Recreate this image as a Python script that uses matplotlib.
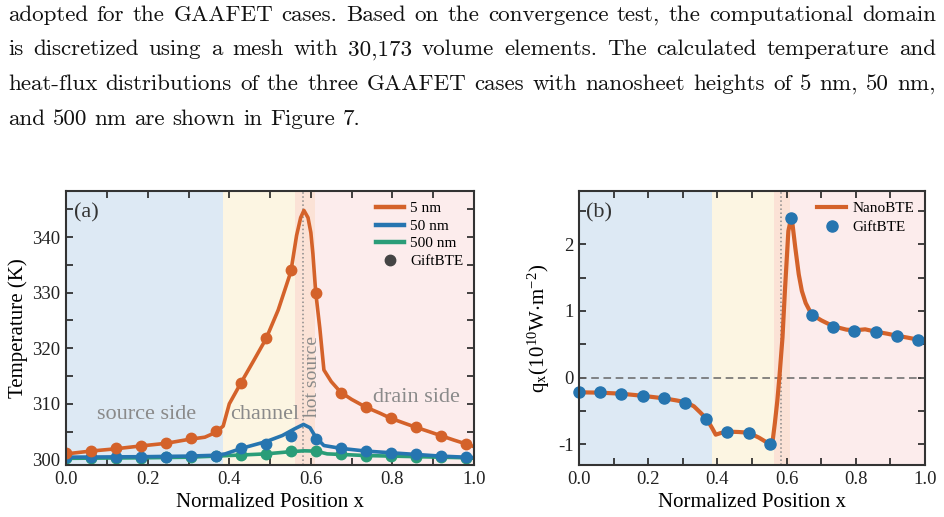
import numpy as np
import matplotlib
matplotlib.use('Agg')
import matplotlib.pyplot as plt
from matplotlib.ticker import AutoMinorLocator, MultipleLocator
from matplotlib.lines import Line2D

# Paragraph above the figure
para_lines = [
    'adopted for the GAAFET cases. Based on the convergence test, the computational domain',
    'is discretized using a mesh with 30,173 volume elements.  The calculated temperature and',
    'heat-flux distributions of the three GAAFET cases with nanosheet heights of 5 nm, 50 nm,',
    'and 500 nm are shown in Figure 7.',
]

# GiftBTE sample positions (shared by both panels)
x_gift = [0.0, 0.061, 0.122, 0.184, 0.245, 0.306, 0.367, 0.429, 0.49,
          0.551, 0.612, 0.673, 0.735, 0.796, 0.857, 0.918, 0.98]

# (a) temperature curves
x_5nm = [0, 0.06, 0.12, 0.18, 0.245, 0.30, 0.34, 0.365, 0.385, 0.40, 0.428,
         0.46, 0.49, 0.52, 0.551, 0.565, 0.575, 0.583, 0.593, 0.60, 0.605,
         0.612, 0.622, 0.632, 0.65, 0.673, 0.70, 0.735, 0.77, 0.796, 0.83,
         0.857, 0.89, 0.918, 0.95, 0.98, 1.0]
t_5nm = [301.0, 301.5, 301.9, 302.4, 302.9, 303.6, 304.0, 304.8, 306.0, 310.0,
         313.7, 317.8, 321.7, 326.9, 333.8, 340.3, 343.5, 344.8, 343.5, 340.8,
         337.0, 330.0, 323.6, 316.1, 314.0, 312.1, 310.8, 309.4, 308.3, 307.4,
         306.5, 305.8, 305.0, 304.3, 303.5, 302.8, 302.3]
t_5nm_gift = [301.1, 301.5, 302.0, 302.4, 302.9, 303.8, 305.2, 313.7, 321.8,
              334.0, 330.0, 312.0, 309.4, 307.4, 305.8, 304.3, 302.8]

x_50nm = [0, 0.1, 0.2, 0.3, 0.367, 0.39, 0.43, 0.49, 0.53, 0.56, 0.582, 0.598,
          0.612, 0.632, 0.673, 0.735, 0.796, 0.857, 0.918, 0.98, 1.0]
t_50nm = [300.4, 300.45, 300.5, 300.6, 300.75, 301.0, 302.0, 303.2, 304.3,
          305.5, 306.3, 305.7, 304.0, 302.5, 302.0, 301.5, 301.2, 300.9, 300.6,
          300.4, 300.35]
t_50nm_gift = [300.4, 300.4, 300.4, 300.45, 300.5, 300.55, 300.7, 302.1, 302.8,
               304.3, 303.7, 302.1, 301.5, 301.2, 300.9, 300.6, 300.4]

x_500nm = [0, 0.1, 0.2, 0.3, 0.367, 0.43, 0.49, 0.551, 0.583, 0.612, 0.64,
           0.673, 0.735, 0.796, 0.857, 0.918, 0.98, 1.0]
t_500nm = [300.2, 300.25, 300.3, 300.4, 300.6, 300.8, 301.0, 301.4, 301.55,
           301.5, 301.0, 300.9, 300.7, 300.6, 300.5, 300.4, 300.3, 300.25]
t_500nm_gift = [300.2, 300.2, 300.25, 300.3, 300.35, 300.4, 300.6, 300.8, 301.0,
                301.45, 301.5, 300.9, 300.7, 300.6, 300.5, 300.4, 300.3]

# (b) heat flux
x_nano = [0, 0.06, 0.12, 0.18, 0.245, 0.28, 0.31, 0.332, 0.35, 0.369, 0.385,
          0.395, 0.41, 0.431, 0.46, 0.49, 0.52, 0.552, 0.56, 0.566, 0.573,
          0.579, 0.588, 0.595, 0.605, 0.612, 0.617, 0.625, 0.635, 0.644, 0.655,
          0.672, 0.70, 0.735, 0.773, 0.797, 0.827, 0.857, 0.89, 0.918, 0.95,
          0.98, 1.0]
q_nano = [-0.22, -0.225, -0.24, -0.27, -0.31, -0.34, -0.37, -0.43, -0.52, -0.62,
          -0.76, -0.855, -0.83, -0.81, -0.815, -0.825, -0.90, -1.0, -0.93, -0.68,
          -0.35, 0.0, 0.6, 1.3, 2.2, 2.37, 2.3, 1.95, 1.55, 1.3, 1.12, 0.95, 0.86,
          0.77, 0.72, 0.71, 0.725, 0.69, 0.66, 0.63, 0.6, 0.57, 0.55]
q_gift = [-0.21, -0.22, -0.24, -0.28, -0.31, -0.385, -0.62, -0.82, -0.83, -1.0,
          2.39, 0.94, 0.765, 0.705, 0.68, 0.625, 0.56]

# region boundaries
regions_a = [(0.0, 0.385, '#dde9f4'), (0.385, 0.561, '#fcf5e2'),
             (0.561, 0.61, '#fbe2d6'), (0.61, 1.0, '#fcecec')]
regions_b = [(0.0, 0.385, '#dde9f4'), (0.385, 0.563, '#fcf5e2'),
             (0.563, 0.61, '#fbe2d6'), (0.61, 1.0, '#fcecec')]

c_or = '#d4622a'
c_bl = '#2675b0'
c_gr = '#2a9d78'
c_txt = '#8a8a8a'

plt.rcParams['font.family'] = ['Liberation Serif', 'DejaVu Serif']
plt.rcParams['mathtext.fontset'] = 'stix'
plt.rcParams['axes.unicode_minus'] = False

fig = plt.figure(figsize=(9.44, 5.17), dpi=100)

# --- justified paragraph in Computer Modern ---
renderer = fig.canvas.get_renderer()
left_px, right_px = 8, 936
base0, step = 20.7, 34.7
psize = 16.6
for i, line in enumerate(para_lines):
    y = 1 - (base0 + i * step) / 517
    words = line.split()
    texts = [fig.text(0, y, w, fontsize=psize, family='cmr10', va='baseline',
                      color='#111111') for w in words]
    widths = [t.get_window_extent(renderer).width for t in texts]
    if i < len(para_lines) - 1:
        gap = (right_px - left_px - sum(widths)) / (len(words) - 1)
    else:
        gap = 0.333 * psize * 100 / 72
    xpos = left_px
    for t, w in zip(texts, widths):
        t.set_x(xpos / 944)
        xpos += w + gap

ax1 = fig.add_axes([0.0701, 0.1006, 0.432, 0.530])
ax2 = fig.add_axes([0.6134, 0.1006, 0.3665, 0.530])

for ax, regs in ((ax1, regions_a), (ax2, regions_b)):
    for x0, x1, col in regs:
        ax.axvspan(x0, x1, color=col, lw=0, zorder=0)

# (a)
ax1.axvline(0.58, color='#8a8a8a', ls=':', lw=1.1, zorder=1)
ax1.plot(x_500nm, t_500nm, color=c_gr, lw=2.6, zorder=3)
ax1.plot(x_50nm, t_50nm, color=c_bl, lw=2.6, zorder=4)
ax1.plot(x_5nm, t_5nm, color=c_or, lw=2.6, zorder=5)
ax1.plot(x_gift, t_500nm_gift, 'o', color=c_gr, ms=7.5, zorder=3)
ax1.plot(x_gift, t_50nm_gift, 'o', color=c_bl, ms=7.5, zorder=4)
ax1.plot(x_gift, t_5nm_gift, 'o', color=c_or, ms=7.5, zorder=5)
ax1.set_xlim(0, 1)
ax1.set_ylim(299.0, 348.3)
ax1.yaxis.set_major_locator(MultipleLocator(10))
ax1.set_ylabel('Temperature (K)', fontsize=15, labelpad=3)
ax1.text(0.02, 0.955, '(a)', transform=ax1.transAxes, fontsize=16,
         va='top', color='#333333')
ax1.text(0.197, 308.0, 'source side', fontsize=16, color=c_txt, ha='center', va='center')
ax1.text(0.487, 308.0, 'channel', fontsize=16, color=c_txt, ha='center', va='center')
ax1.text(0.858, 311.1, 'drain side', fontsize=16, color=c_txt, ha='center', va='center')
ax1.text(0.605, 314.9, 'hot source', fontsize=14, color=c_txt, ha='center',
         va='center', rotation=90)
h1 = [Line2D([], [], color=c_or, lw=3.2), Line2D([], [], color=c_bl, lw=3.2),
      Line2D([], [], color=c_gr, lw=3.2),
      Line2D([], [], color='#444444', marker='o', ls='', ms=7.5)]
ax1.legend(h1, ['5 nm', '50 nm', '500 nm', 'GiftBTE'], loc='upper right',
           frameon=False, fontsize=11, handlelength=1.8, handletextpad=0.4,
           labelspacing=0.25, borderaxespad=0.3)

# (b)
ax2.axvline(0.585, color='#8a8a8a', ls=':', lw=1.1, zorder=1)
ax2.axhline(0, color='#666666', ls=(0, (5, 3)), lw=1.1, zorder=2)
ax2.plot(x_nano, q_nano, color=c_or, lw=3, zorder=3, label='NanoBTE')
ax2.plot(x_gift, q_gift, 'o', color=c_bl, ms=8, zorder=4, label='GiftBTE',
         clip_on=False)
ax2.set_xlim(0, 1)
ax2.set_ylim(-1.31, 2.8)
ax2.yaxis.set_major_locator(MultipleLocator(1))
ax2.set_ylabel(r'q$_\mathrm{x}$(10$^{\mathregular{10}}$W$\cdot$m$^{\mathregular{-2}}$)',
               fontsize=15, labelpad=4)
ax2.text(0.02, 0.955, '(b)', transform=ax2.transAxes, fontsize=16,
         va='top', color='#333333')
ax2.legend(loc='upper right', frameon=False, fontsize=11, handlelength=1.9,
           handletextpad=0.4, labelspacing=0.35, borderaxespad=0.3)

for ax in (ax1, ax2):
    ax.set_xlabel('Normalized Position x', fontsize=15, labelpad=4)
    ax.xaxis.set_major_locator(MultipleLocator(0.2))
    ax.xaxis.set_minor_locator(AutoMinorLocator(2))
    ax.yaxis.set_minor_locator(AutoMinorLocator(2))
    ax.xaxis.set_major_formatter(plt.FormatStrFormatter('%.1f'))
    ax.tick_params(which='both', direction='in', top=True, right=True,
                   colors='#222222', width=1.2, labelsize=13.5)
    ax.tick_params(which='major', length=5, pad=4)
    ax.tick_params(which='minor', length=5)
    for s in ax.spines.values():
        s.set_linewidth(1.5)
        s.set_color('#333333')
        s.set_zorder(10)

fig.savefig('out.png', dpi=100)
